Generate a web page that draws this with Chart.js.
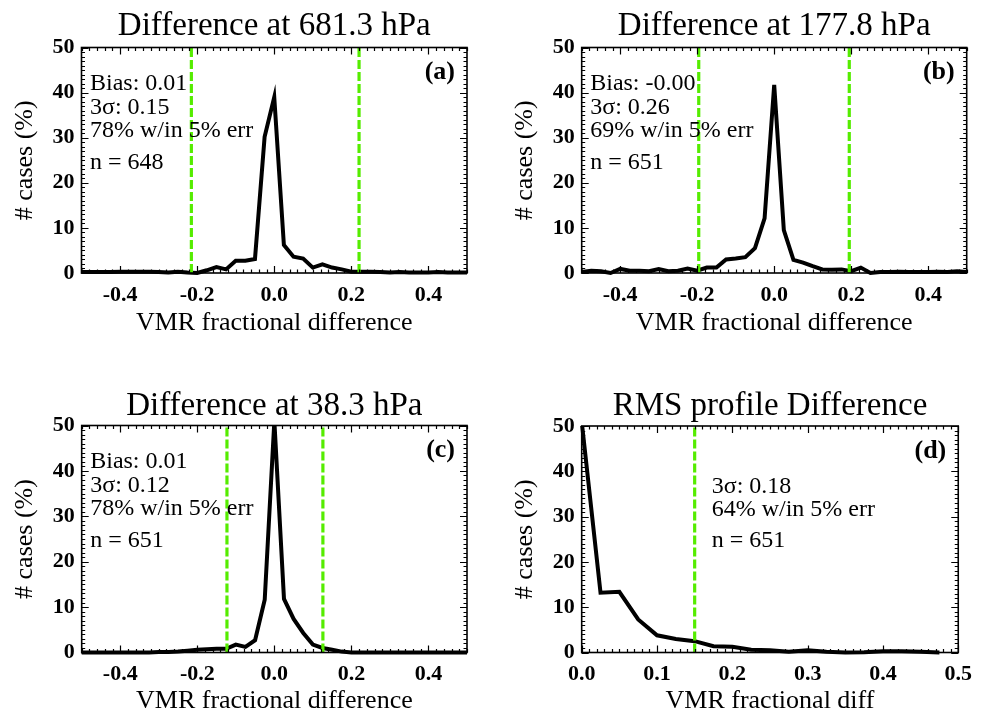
<!DOCTYPE html>
<html><head><meta charset="utf-8">
<script src="https://cdn.jsdelivr.net/npm/chart.js@4.4.0/dist/chart.umd.min.js"></script>
<style>
html,body{margin:0;padding:0;background:#fff;overflow:hidden;width:983px;height:713px;position:relative;}
.panel{position:absolute;}
canvas{display:block;}
</style></head><body>
<div class="panel" style="left:0;top:0;"><canvas id="cA" width="491" height="356"></canvas></div>
<div class="panel" style="left:491px;top:0;"><canvas id="cB" width="492" height="356"></canvas></div>
<div class="panel" style="left:0;top:378px;"><canvas id="cC" width="491" height="356"></canvas></div>
<div class="panel" style="left:491px;top:378px;"><canvas id="cD" width="492" height="356"></canvas></div>
<script>
// ---------------- data ----------------
const binsDiff = [-0.5,-0.475,-0.45,-0.425,-0.4,-0.375,-0.35,-0.325,-0.3,-0.275,-0.25,-0.225,-0.2,-0.175,-0.15,-0.125,-0.1,-0.075,-0.05,-0.025,0,0.025,0.05,0.075,0.1,0.125,0.15,0.175,0.2,0.225,0.25,0.275,0.3,0.325,0.35,0.375,0.4,0.425,0.45,0.475,0.5];
const pctA = [0.2,0.2,0.2,0.2,0.3,0.3,0.3,0.3,0.2,0.1,0.3,0.1,0.0,0.6,1.3,0.8,2.7,2.7,3.1,30.2,39.0,6.2,3.6,3.2,1.2,1.9,1.2,0.8,0.3,0.3,0.3,0.2,0.1,0.2,0.1,0.1,0.1,0.2,0.1,0.1,0.1];
const pctB = [0.2,0.5,0.4,0.0,0.9,0.5,0.5,0.4,0.9,0.4,0.5,1.0,0.5,1.2,1.2,3.0,3.2,3.5,5.5,12.1,41.7,9.5,2.9,2.3,1.5,0.8,0.7,0.8,0.4,1.2,0.0,0.2,0.2,0.3,0.2,0.2,0.2,0.3,0.2,0.4,0.2];
const pctC = [0.0,0.0,0.0,0.0,0.0,0.0,0.0,0.0,0.1,0.1,0.2,0.4,0.6,0.7,0.8,0.8,1.75,1.25,2.7,11.6,51,11.8,7.4,4.3,1.75,1.0,0.6,0.2,0.0,0.0,0.0,0.0,0.0,0.0,0.0,0.0,0.0,0.0,0.0,0.0,0.0];
const binsRms = [0,0.025,0.05,0.075,0.1,0.125,0.15,0.175,0.2,0.225,0.25,0.275,0.3,0.325,0.35,0.375,0.4,0.425,0.45,0.475];
const pctD = [51,13.2,13.4,7.3,3.8,3.0,2.5,1.4,1.25,0.6,0.5,0.15,0.5,0.15,0.0,0.05,0.3,0.3,0.15,0.0];

const sigmaA = [-0.215, 0.22];
const sigmaB = [-0.196, 0.195];
const sigmaC = [-0.123, 0.126];
const sigmaD = [0.15];

const titleA = 'Difference at 681.3 hPa';
const titleB = 'Difference at 177.8 hPa';
const titleC = 'Difference at 38.3 hPa';
const titleD = 'RMS profile Difference';
const xTitleDiff = 'VMR fractional difference';
const xTitleRms = 'VMR fractional diff';
const yTitle = '# cases (%)';

const xTicksDiff = [-0.4, -0.2, 0.0, 0.2, 0.4];
const xTicksRms = [0.0, 0.1, 0.2, 0.3, 0.4, 0.5];
const yTicks = [0, 10, 20, 30, 40, 50];

const statsA = ['Bias: 0.01', '3\u03C3: 0.15', '78% w/in 5% err', 'n = 648'];
const statsB = ['Bias: -0.00', '3\u03C3: 0.26', '69% w/in 5% err', 'n = 651'];
const statsC = ['Bias: 0.01', '3\u03C3: 0.12', '78% w/in 5% err', 'n = 651'];
const statsD = ['3\u03C3: 0.18', '64% w/in 5% err', 'n = 651'];
const tags = ['(a)', '(b)', '(c)', '(d)'];

// ---------------- drawing ----------------
const SERIF = '"Liberation Serif", "Times New Roman", serif';
const GREEN = '#55ec00';

const decor = {
  id: 'decor',
  afterDatasetsDraw(chart, args, o) {
    const {ctx, chartArea: a, scales: {x, y}} = chart;
    ctx.save();
    ctx.strokeStyle = '#000';
    ctx.lineWidth = 1.2;
    ctx.beginPath();
    for (let i = 0; i <= 50; i++) {
      const py = Math.round(y.getPixelForValue(i)) + 0.5;
      const L = (i % 10 === 0) ? 7 : 3.5;
      ctx.moveTo(a.left, py); ctx.lineTo(a.left + L, py);
      ctx.moveTo(a.right, py); ctx.lineTo(a.right - L, py);
    }
    const n = Math.round((x.max - x.min) / o.minor);
    for (let i = 0; i <= n; i++) {
      const v = x.min + i * o.minor;
      const px = Math.round(x.getPixelForValue(v)) + 0.5;
      const isMajor = Math.abs(Math.round(v / o.major) * o.major - v) < 1e-6;
      const L = isMajor ? 7 : 3.5;
      ctx.moveTo(px, a.top); ctx.lineTo(px, a.top + L);
      ctx.moveTo(px, a.bottom); ctx.lineTo(px, a.bottom - L);
    }
    ctx.stroke();
    ctx.lineWidth = 1.6;
    ctx.strokeRect(a.left, a.top, a.right - a.left, a.bottom - a.top);
    ctx.fillStyle = '#000';
    // panel title, centred over the plot area
    ctx.font = '33px ' + SERIF;
    ctx.textAlign = 'center';
    ctx.textBaseline = 'alphabetic';
    ctx.fillText(o.title, (a.left + a.right) / 2, o.titleBase);
    // stats text
    ctx.font = '24px ' + SERIF;
    ctx.textBaseline = 'middle';
    ctx.textAlign = 'left';
    o.lines.forEach((t, i) => ctx.fillText(t, a.left + o.textX, a.top + o.lineY[i]));
    ctx.font = 'bold 26px ' + SERIF;
    ctx.textAlign = 'right';
    ctx.fillText(o.tag, a.right - 12, a.top + 25);
    ctx.restore();
  }
};

function makePanel(id, cfg) {
  const W = cfg.w, H = 356;
  const datasets = [];
  cfg.sigma.forEach(v => datasets.push({
    data: [{x: v, y: 0}, {x: v, y: 50}],
    borderColor: GREEN, borderWidth: 3.2, borderDash: [9, 3],
    pointRadius: 0, order: 0, clip: 0
  }));
  datasets.push({
    data: cfg.bins.map((b, i) => ({x: b, y: cfg.vals[i]})),
    borderColor: '#000', borderWidth: 4, pointRadius: 0, tension: 0,
    order: 1, clip: {left: 4, right: 4, top: 0, bottom: 4}
  });
  new Chart(document.getElementById(id), {
    type: 'line',
    data: {datasets},
    plugins: [decor],
    options: {
      responsive: false, animation: false, devicePixelRatio: 1,
      layout: {padding: {left: 0, right: W - cfg.right, top: cfg.top, bottom: 0}},
      plugins: {
        legend: {display: false}, tooltip: {enabled: false}, title: {display: false},
        decor: {title: cfg.title, titleBase: cfg.titleBase, lines: cfg.stats, lineY: cfg.lineY,
                textX: cfg.textX, tag: cfg.tag, minor: cfg.minor, major: cfg.major}
      },
      scales: {
        x: {
          type: 'linear', min: cfg.xmin, max: cfg.xmax,
          afterBuildTicks: s => { s.ticks = cfg.xt.map(v => ({value: v})); },
          afterFit: s => { s.height = H - cfg.bottom; },
          grid: {display: false, drawTicks: false}, border: {display: false},
          ticks: {color: '#000', padding: 11, maxRotation: 0, autoSkip: false,
                  font: {family: SERIF, size: 22, weight: 'bold', lineHeight: 1},
                  callback: v => Number(v).toFixed(1)},
          title: {display: true, text: cfg.xTitle, color: '#000',
                  font: {family: SERIF, size: 26, weight: 'normal', lineHeight: 1},
                  padding: {top: 0, bottom: H - cfg.xTitleC - 13}}
        },
        y: {
          type: 'linear', min: 0, max: 50,
          afterBuildTicks: s => { s.ticks = yTicks.map(v => ({value: v})); },
          afterFit: s => { s.width = cfg.left; },
          grid: {display: false, drawTicks: false}, border: {display: false},
          ticks: {color: '#000', padding: 7, autoSkip: false,
                  font: {family: SERIF, size: 22, weight: 'bold', lineHeight: 1},
                  callback: v => String(v)},
          title: {display: true, text: yTitle, color: '#000',
                  font: {family: SERIF, size: 26, weight: 'normal', lineHeight: 1},
                  padding: {top: cfg.left - 56.5 - 13, bottom: 0}}
        }
      }
    }
  });
}

const lineY4 = [36, 60, 83.5, 115];
const lineY3 = [61, 83.5, 115];

makePanel('cA', {w: 491, left: 81.5, right: 467, top: 47.5, bottom: 273, titleBase: 35, xTitleC: 323,
  title: titleA, xTitle: xTitleDiff, bins: binsDiff, vals: pctA, sigma: sigmaA, xmin: -0.5, xmax: 0.5,
  xt: xTicksDiff, minor: 0.02, major: 0.2, stats: statsA, lineY: lineY4, textX: 8.5, tag: tags[0]});
makePanel('cB', {w: 492, left: 90.7, right: 475.7, top: 47.5, bottom: 273, titleBase: 35, xTitleC: 323,
  title: titleB, xTitle: xTitleDiff, bins: binsDiff, vals: pctB, sigma: sigmaB, xmin: -0.5, xmax: 0.5,
  xt: xTicksDiff, minor: 0.02, major: 0.2, stats: statsB, lineY: lineY4, textX: 8.5, tag: tags[1]});
makePanel('cC', {w: 491, left: 81.7, right: 467, top: 47.5, bottom: 274.5, titleBase: 37, xTitleC: 323.5,
  title: titleC, xTitle: xTitleDiff, bins: binsDiff, vals: pctC, sigma: sigmaC, xmin: -0.5, xmax: 0.5,
  xt: xTicksDiff, minor: 0.02, major: 0.2, stats: statsC, lineY: lineY4, textX: 8.5, tag: tags[2]});
makePanel('cD', {w: 492, left: 90.7, right: 475.7, top: 48, bottom: 274.5, titleBase: 37, xTitleC: 323.5,
  title: titleD, xTitle: xTitleRms, bins: binsRms, vals: pctD, sigma: sigmaD, xmin: 0, xmax: 0.5,
  xt: xTicksRms, minor: 0.01, major: 0.1, stats: statsD, lineY: lineY3, textX: 130, tag: tags[3]});
</script>
</body></html>
